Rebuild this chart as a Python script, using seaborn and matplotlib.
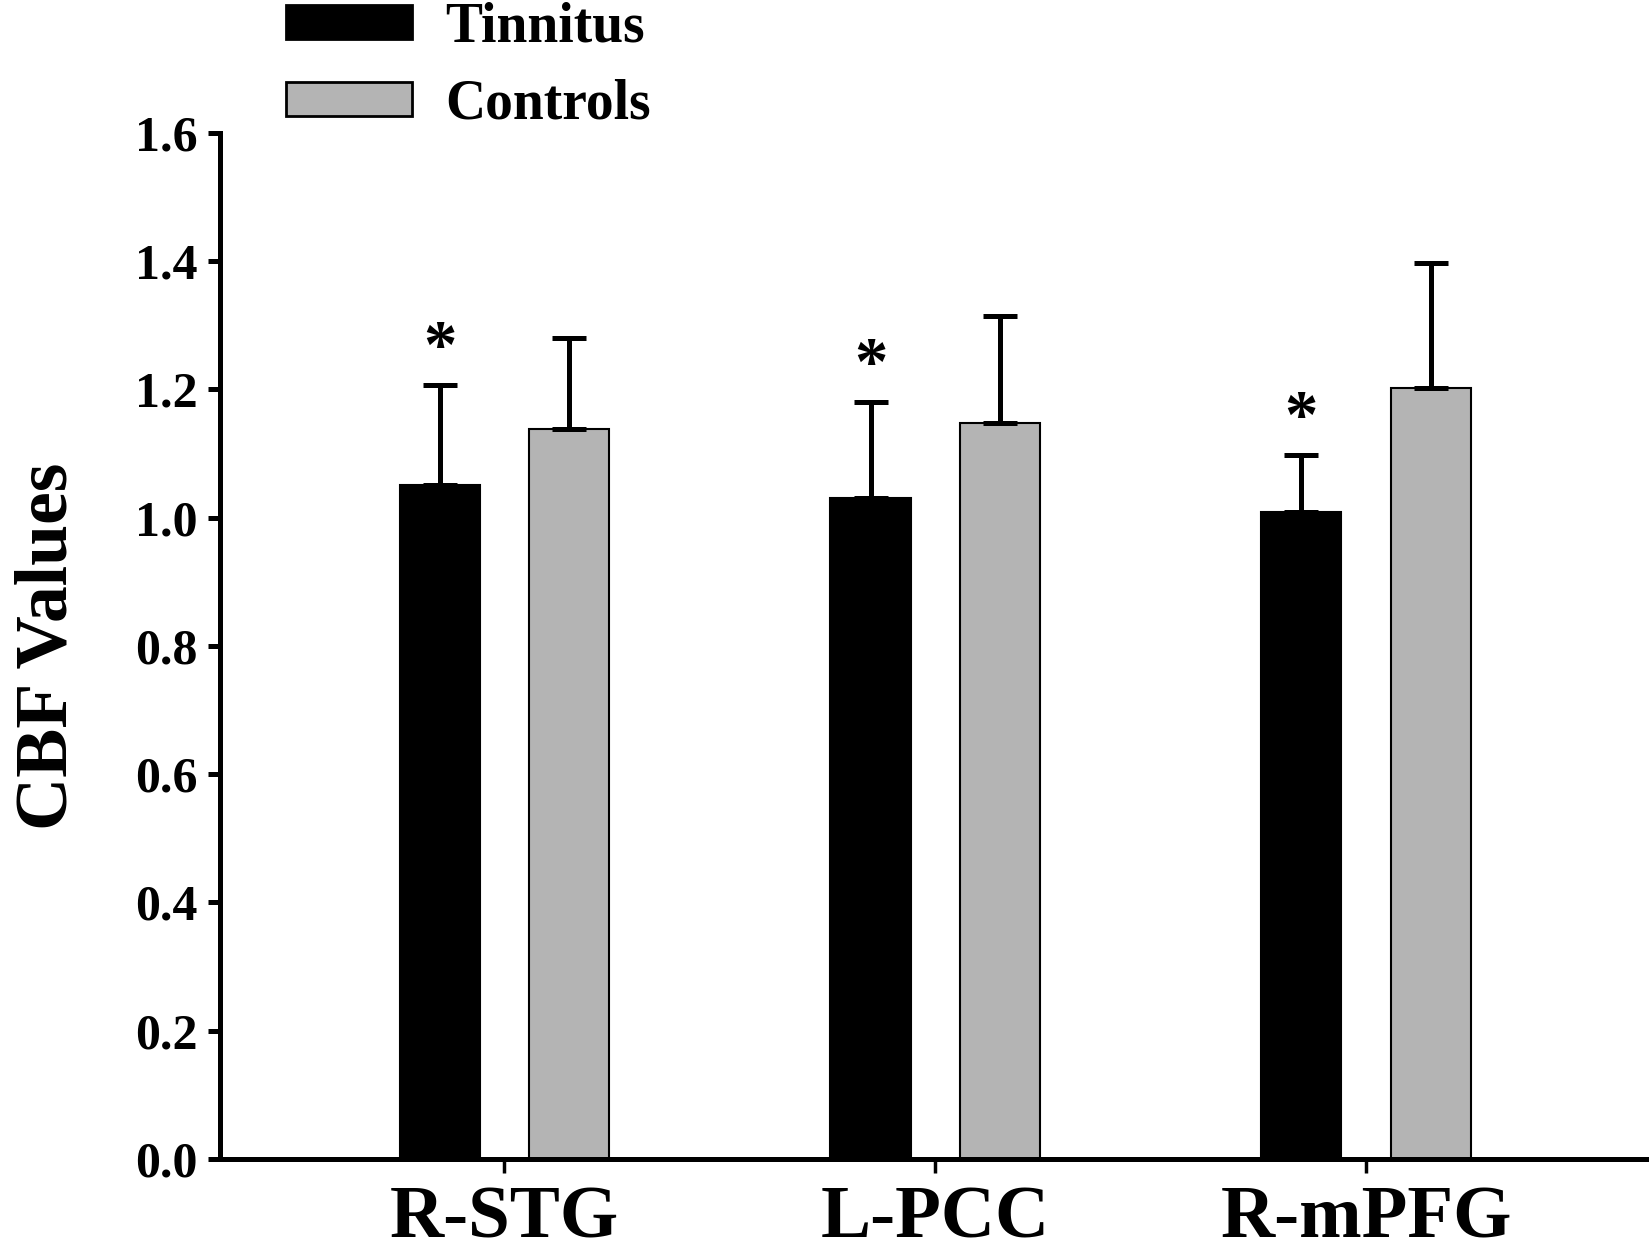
import numpy as np
import pandas as pd
import matplotlib
matplotlib.use("Agg")
import matplotlib.pyplot as plt
from matplotlib.patches import Patch
import seaborn as sns

regions = ["R-STG", "L-PCC", "R-mPFG"]
groups = ["Tinnitus", "Controls"]
tinnitus_mean = [1.051, 1.030, 1.009]
tinnitus_sd = [0.156, 0.150, 0.089]
controls_mean = [1.138, 1.147, 1.202]
controls_sd = [0.143, 0.168, 0.195]
star_marks = [True, True, True]  # significant difference, drawn over tinnitus bars
yticks = [0.0, 0.2, 0.4, 0.6, 0.8, 1.0, 1.2, 1.4, 1.6]

colors = ["#000000", "#b4b4b4"]

df = pd.DataFrame({
    "Region": regions * 2,
    "Group": [groups[0]] * 3 + [groups[1]] * 3,
    "CBF": tinnitus_mean + controls_mean,
    "SD": tinnitus_sd + controls_sd,
})

sns.set_style("white")
plt.rcParams["font.family"] = ["Liberation Serif", "DejaVu Serif"]
plt.rcParams["font.weight"] = "bold"
for key in ["text.color", "axes.labelcolor", "xtick.color", "ytick.color"]:
    plt.rcParams[key] = "black"

fig = plt.figure(figsize=(16.5, 12.52), dpi=100)
ax = fig.add_axes([0.1333, 0.0743, 0.8643, 0.8195])

sns.barplot(data=df, x="Region", y="CBF", hue="Group", order=regions,
            hue_order=groups, palette=colors, width=0.6, gap=0.38,
            edgecolor="black", linewidth=1.5, errorbar=None, legend=False, ax=ax)

# upper-only error bars, centred on each bar
sds = [tinnitus_sd, controls_sd]
bar_containers = list(ax.containers)
for gi, cont in enumerate(bar_containers):
    for ri, bar in enumerate(cont):
        xc = bar.get_x() + bar.get_width() / 2
        h = bar.get_height()
        ax.errorbar(xc, h, yerr=[[0], [sds[gi][ri]]], fmt="none", ecolor="black",
                    elinewidth=3.6, capsize=12.5, capthick=3.6, zorder=1)
        if gi == 0 and star_marks[ri]:
            ax.text(xc, h + sds[gi][ri] + 0.03, "*", ha="center", va="baseline",
                    fontsize=48, fontweight="bold", color="black")

ax.set_xlim(-0.66, 2.65)
ax.set_ylim(0, 1.6)
ax.set_yticks(yticks)
ax.set_yticklabels([f"{t:.1f}" for t in yticks])

for s in ["top", "right"]:
    ax.spines[s].set_visible(False)
for s in ["left", "bottom"]:
    ax.spines[s].set_linewidth(3.6)
    ax.spines[s].set_color("black")

ax.tick_params(axis="y", direction="out", length=9, width=3.6, pad=7,
               labelsize=36, left=True, colors="black")
ax.tick_params(axis="x", direction="out", length=10, width=2.5, pad=9,
               labelsize=54, bottom=True, colors="black")
for lab in ax.get_xticklabels() + ax.get_yticklabels():
    lab.set_fontweight("bold")

ax.set_xlabel("")
ax.set_ylabel("CBF Values", fontsize=53, fontweight="bold", labelpad=38,
              color="black")

handles = [Patch(facecolor=c, edgecolor="black", linewidth=2) for c in colors]
fig.legend(handles, groups, loc="upper left", bbox_to_anchor=(0.170, 1.003),
           frameon=False, handlelength=2.27, handleheight=0.55,
           handletextpad=0.6, labelspacing=0.45, borderpad=0.1, borderaxespad=0,
           labelcolor="black", prop={"weight": "bold", "size": 40})

fig.savefig("out.png", dpi=100)
